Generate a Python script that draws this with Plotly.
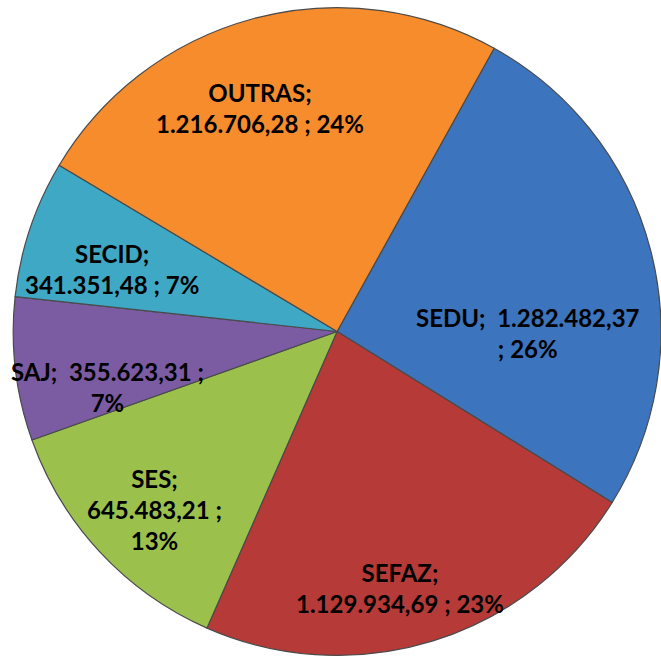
import math
import plotly.graph_objects as go

categories = ["SEDU", "SEFAZ", "SES", "SAJ", "SECID", "OUTRAS"]
values = [1282482.37, 1129934.69, 645483.21, 355623.31, 341351.48, 1216706.28]
pct_labels = ["26%", "23%", "13%", "7%", "7%", "24%"]
value_labels = ["1.282.482,37", "1.129.934,69", "645.483,21", "355.623,31", "341.351,48", "1.216.706,28"]

colors = ["#3c74bd", "#b63b38", "#9cc04c", "#7b5ca2", "#3fa8c5", "#f68c2c"]

# label text with line breaks like the original
label_texts = [
    f"{categories[0]};  {value_labels[0]}<br>; {pct_labels[0]}",
    f"{categories[1]};<br>{value_labels[1]} ; {pct_labels[1]}",
    f"{categories[2]};<br>{value_labels[2]} ;<br>{pct_labels[2]}",
    f"{categories[3]};  {value_labels[3]} ;<br>{pct_labels[3]}",
    f"{categories[4]};<br>{value_labels[4]} ; {pct_labels[4]}",
    f"{categories[5]};<br>{value_labels[5]} ; {pct_labels[5]}",
]
# label placement: radial fraction and angular adjustment (degrees)
label_r = [0.59, 0.815, 0.787, 0.73, 0.72, 0.73]
label_dang = [15, 3.4, -1.4, -7, -3, -4]

rotation = 29
W, H = 661, 663
dom_x = [0.02, 1.0]
dom_y = [0.0, 1.0]

fig = go.Figure(go.Pie(
    labels=categories,
    values=values,
    sort=False,
    direction="clockwise",
    rotation=rotation,
    marker=dict(colors=colors, line=dict(color="#4a4a4a", width=1.2)),
    textinfo="none",
    hoverinfo="label+value+percent",
    domain=dict(x=dom_x, y=dom_y),
    showlegend=False,
))

# compute label positions from slice mid-angles
total = sum(values)
cx = (dom_x[0] + dom_x[1]) / 2 * W
cy = (1 - (dom_y[0] + dom_y[1]) / 2) * H
R = min((dom_x[1] - dom_x[0]) * W, (dom_y[1] - dom_y[0]) * H) / 2
cum = 0.0
for i, v in enumerate(values):
    mid = (cum + v / 2) / total
    cum += v
    ang = math.radians(rotation + mid * 360 + label_dang[i])
    px = cx + label_r[i] * R * math.sin(ang)
    py = cy - label_r[i] * R * math.cos(ang)
    fig.add_annotation(
        x=px / W, y=1 - py / H, xref="paper", yref="paper",
        xanchor="center", yanchor="middle",
        text=label_texts[i], showarrow=False,
        font=dict(family="Lato, Open Sans, sans-serif", size=24, color="black", weight="bold"),
        align="center",
    )

fig.update_layout(
    width=W, height=H,
    margin=dict(l=0, r=0, t=0, b=0),
    paper_bgcolor="white",
    plot_bgcolor="white",
)

fig.write_html(
    "out.html",
    config={"displayModeBar": False},
    post_script="document.body.style.margin='0';document.body.style.overflow='hidden';",
)
